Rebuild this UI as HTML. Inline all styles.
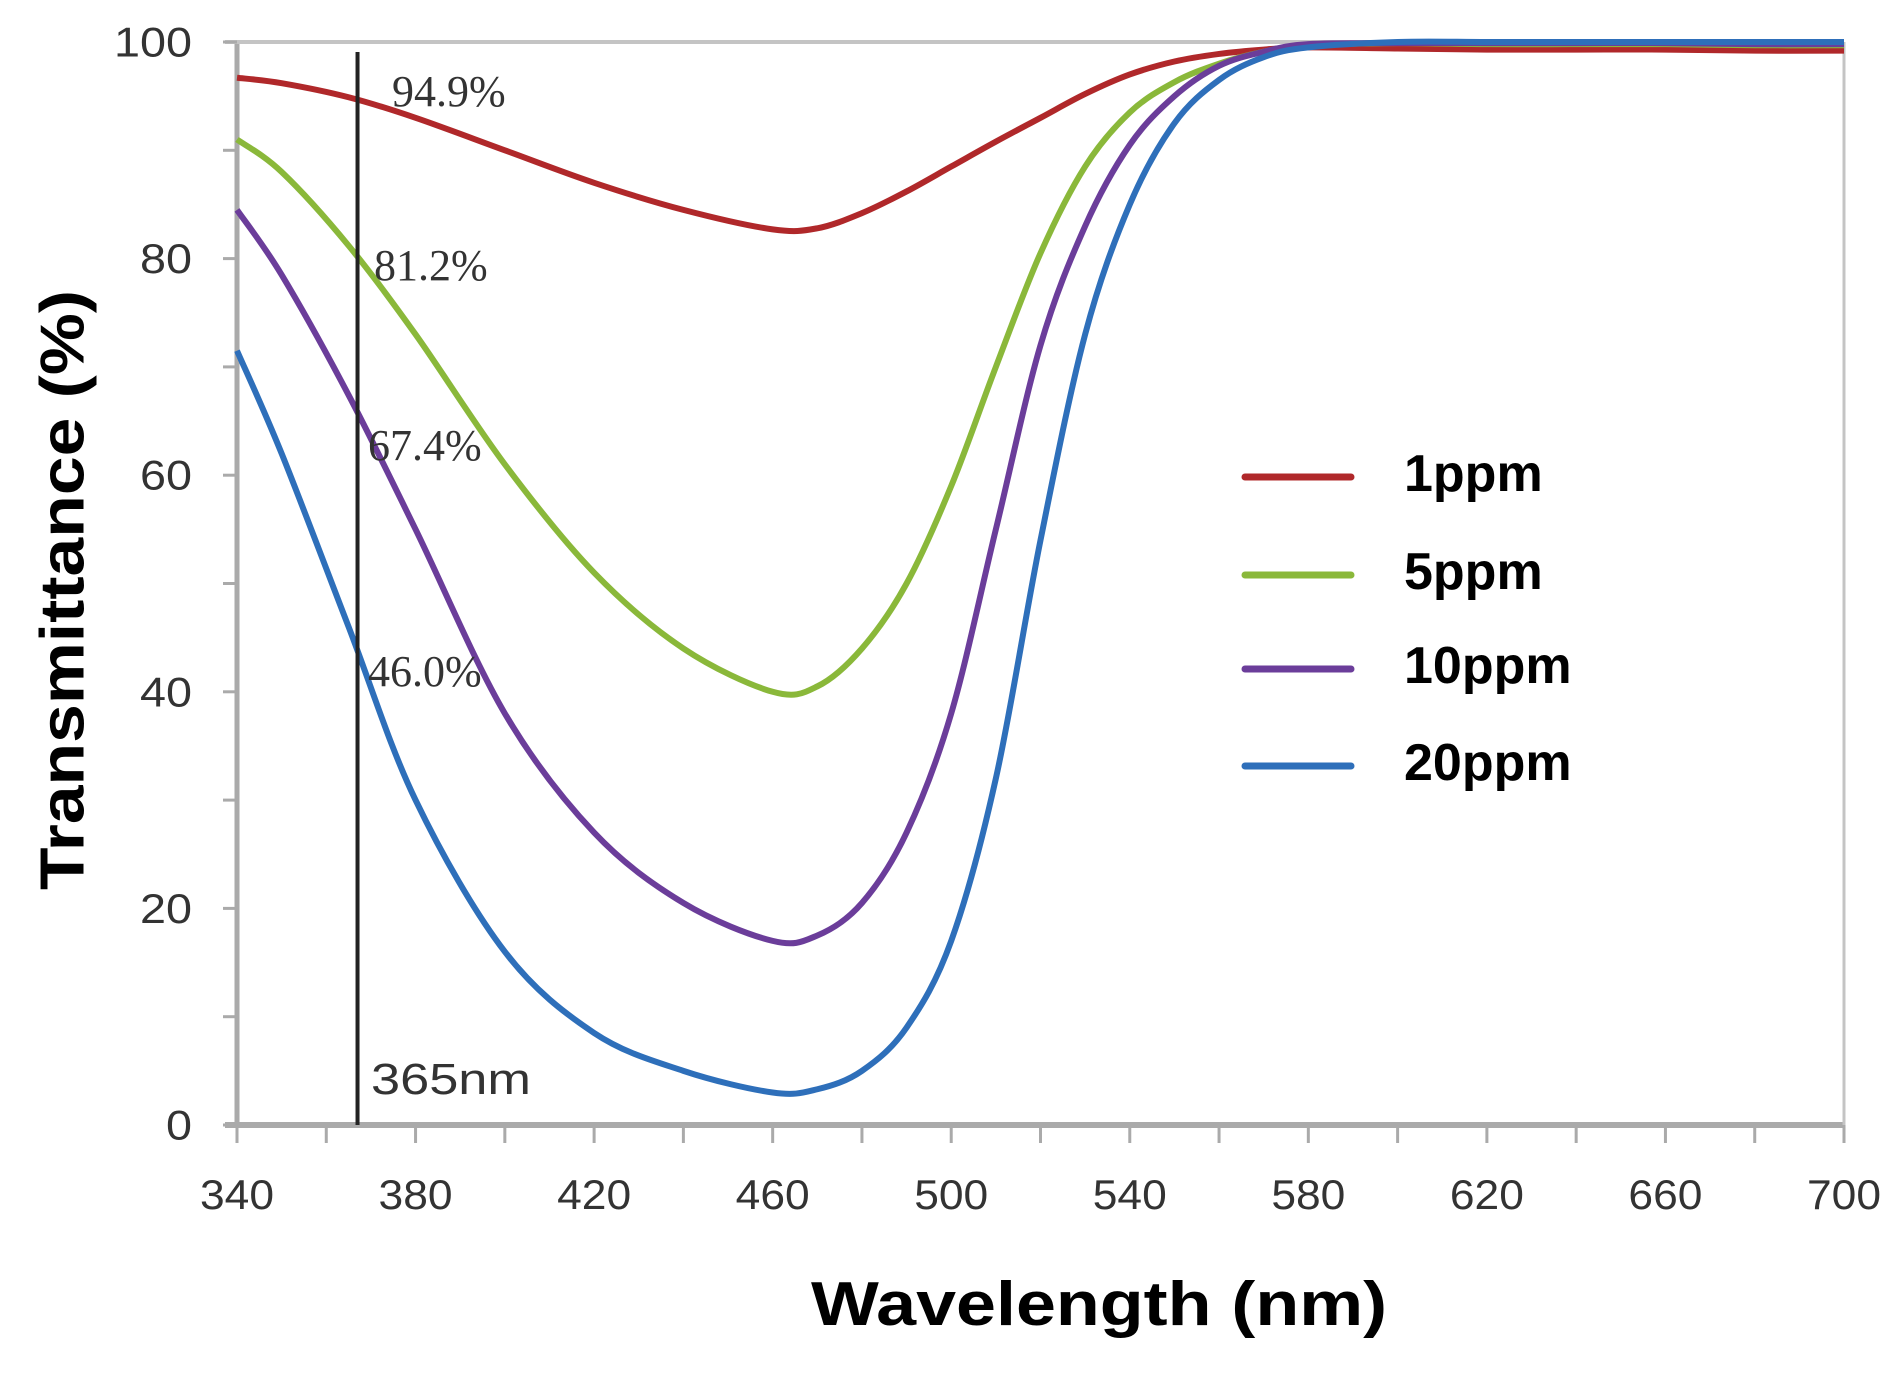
<!DOCTYPE html>
<html><head><meta charset="utf-8"><style>
html,body{margin:0;padding:0;background:#fff;}
svg{display:block;}
</style></head><body>
<svg id="chart" width="1890" height="1379" viewBox="0 0 1890 1379" xmlns="http://www.w3.org/2000/svg">
<g id="axes"></g>
<g id="series"></g>
<g id="annot"></g>
<g id="legend"></g>
<text x="63" y="590" transform="rotate(-90 63 590)" text-anchor="middle" dominant-baseline="central" font-family="Liberation Sans, sans-serif" font-size="62" font-weight="bold" textLength="600" lengthAdjust="spacingAndGlyphs" fill="#000">Transmittance (%)</text>
<text x="1099" y="1325" text-anchor="middle" font-family="Liberation Sans, sans-serif" font-size="62" font-weight="bold" textLength="576" lengthAdjust="spacingAndGlyphs" fill="#000">Wavelength (nm)</text>
</svg>
<script>
const wavelengths = [340,350,365,380,400,420,440,460,470,480,490,500,510,520,530,540,550,560,570,580,600,620,640,660,680,700];
const ppm1  = [96.7,96.2,94.9,93,90,87,84.5,82.7,82.8,84.2,86.2,88.5,90.8,93,95.2,97,98.2,98.9,99.3,99.5,99.4,99.3,99.3,99.3,99.2,99.2];
const ppm5  = [91,88,81.2,73,61,51,44,40,40.5,44,50,59,70,80.5,88.5,93.5,96.3,98,99.1,99.7,99.9,99.8,99.8,99.8,99.7,99.7];
const ppm10 = [84.5,78.5,67.4,55,38,27,20.5,17,17.5,20.5,27,38,55,72,83,90.5,95,97.8,99.1,99.8,99.9,99.9,99.9,99.9,99.8,99.8];
const ppm20 = [71.5,62,46,30,16,8.5,5,3,3.3,5,9,17,32,54,73,85,92.5,96.5,98.6,99.5,100,100,100,100,100,100];
const seriesNames = ["1ppm","5ppm","10ppm","20ppm"];
const seriesColors = ["#b0282a","#8ab83a","#6b3d9a","#2e6fba"];
const xTicks = [340,380,420,460,500,540,580,620,660,700];
const yTicks = [0,20,40,60,80,100];
const markerWl = 367;
const markerLabels = ["94.9%","81.2%","67.4%","46.0%"];
const markerValues = [94.9,81.2,67.4,46.0];

const X0=237,X1=1844,Y0=1125,Y1=42;
const xs = v => X0 + (v-340)/(700-340)*(X1-X0);
const ys = v => Y0 - v/100*(Y0-Y1);
const NS="http://www.w3.org/2000/svg";
function mk(tag, parent, attrs){const e=document.createElementNS(NS,tag);for(const k in attrs)e.setAttribute(k,attrs[k]);parent.appendChild(e);return e;}
const axes=document.getElementById('axes');
let el=mk('line',axes,{x1:X0,y1:Y1,x2:X0,y2:Y0,stroke:'#aaa','stroke-width':5});


el=mk('line',axes,{x1:X0-12,y1:Y0,x2:X1,y2:Y0,stroke:'#aaa','stroke-width':6});


el=mk('line',axes,{x1:X0-12,y1:Y1,x2:X1,y2:Y1,stroke:'#c4c4c4','stroke-width':4});


el=mk('line',axes,{x1:X1,y1:Y1,x2:X1,y2:Y0,stroke:'#c4c4c4','stroke-width':3});


for(let v=0;v<=100;v+=10){
  el=mk('line',axes,{x1:X0-14,y1:ys(v),x2:X0,y2:ys(v),stroke:'#aaa','stroke-width':3});
  
  
}
yTicks.forEach(v=>{
  const w = String(v).length*26;
  const t=mk('text',axes,{x:192,y:ys(v),'text-anchor':'end','dominant-baseline':'central','font-family':'Liberation Sans, sans-serif','font-size':42,fill:'#333',textLength:w,lengthAdjust:'spacingAndGlyphs'});
  t.textContent=v;
  
  
});
for(let v=340;v<=700;v+=20){
  el=mk('line',axes,{x1:xs(v),y1:Y0,x2:xs(v),y2:Y0+18,stroke:'#aaa','stroke-width':3});
  
  
}
xTicks.forEach(v=>{
  const t=mk('text',axes,{x:xs(v),y:1209,'text-anchor':'middle','font-family':'Liberation Sans, sans-serif','font-size':42,fill:'#333',textLength:74,lengthAdjust:'spacingAndGlyphs'});
  t.textContent=v;
  
  
});
function pathFor(vals){
  const p=wavelengths.map((w,i)=>[xs(w),ys(vals[i])]);
  let d='M'+p[0][0]+','+p[0][1];
  for(let i=0;i<p.length-1;i++){
    const a=p[Math.max(i-1,0)],b=p[i],c=p[i+1],e=p[Math.min(i+2,p.length-1)];
    const c1=[b[0]+(c[0]-a[0])/6,b[1]+(c[1]-a[1])/6],c2=[c[0]-(e[0]-b[0])/6,c[1]-(e[1]-b[1])/6];
    d+=' C'+c1[0]+','+c1[1]+' '+c2[0]+','+c2[1]+' '+c[0]+','+c[1];
  }
  return d;
}
const sg=document.getElementById('series');
[ppm1,ppm5,ppm10,ppm20].forEach((vals,i)=>{
  const pth=mk('path',sg,{d:pathFor(vals),fill:'none',stroke:seriesColors[i],'stroke-width':6,'stroke-linejoin':'round'});
  
  
});
const an=document.getElementById('annot');
el=mk('line',an,{x1:xs(markerWl),y1:52,x2:xs(markerWl),y2:Y0,stroke:'#222','stroke-width':4});


const labelPos=[[392,106],[374,280],[368,460],[368,686]];
markerLabels.forEach((s,i)=>{
  const t=mk('text',an,{x:labelPos[i][0],y:labelPos[i][1],'font-family':'Liberation Serif, serif','font-size':44,fill:'#333'});
  t.textContent=s;
  
  
});
el=mk('text',an,{x:371,y:1094,'font-family':'Liberation Sans, sans-serif','font-size':44,fill:'#333',textLength:160,lengthAdjust:'spacingAndGlyphs'});
el.textContent='365nm';


const lg=document.getElementById('legend');
const legY=[477,575,669,766];
seriesNames.forEach((n,i)=>{
  const l=mk('line',lg,{x1:1245,y1:legY[i],x2:1351,y2:legY[i],stroke:seriesColors[i],'stroke-width':7,'stroke-linecap':'round'});
  
  
  const t=mk('text',lg,{x:1404,y:legY[i]+14,'font-family':'Liberation Sans, sans-serif','font-size':52,'font-weight':'bold',fill:'#000'});
  t.textContent=n;
  
  
});
</script>
</body></html>
